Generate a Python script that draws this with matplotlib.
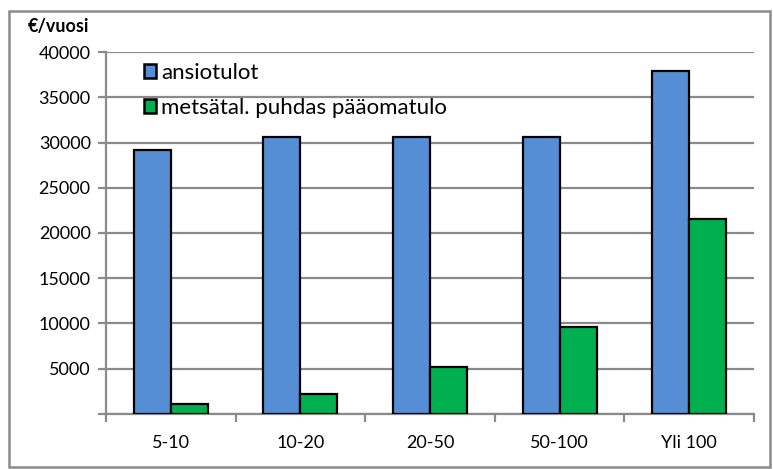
import numpy as np
import matplotlib.pyplot as plt
from matplotlib.patches import Rectangle

plt.rcParams['font.family'] = ['Lato', 'DejaVu Sans']

categories = ['5-10', '10-20', '20-50', '50-100', 'Yli 100']
ansiotulot = [29200, 30600, 30600, 30600, 37900]
paaomatulo = [1100, 2200, 5200, 9600, 21600]
yticks = list(range(0, 40001, 5000))
ytick_labels = [''] + [str(v) for v in yticks[1:]]

grey = '#8a8a8a'
fig = plt.figure(figsize=(7.73, 4.69), dpi=100)
ax = fig.add_axes([0.1371, 0.1173, 0.8383, 0.7718])

x = np.arange(len(categories))
w = 0.285
ax.bar(x - w / 2, ansiotulot, w, color='#558ED5', edgecolor='black',
       linewidth=1.6, label='ansiotulot', zorder=3)
ax.bar(x + w / 2, paaomatulo, w, color='#00B050', edgecolor='black',
       linewidth=1.6, label='metsätal. puhdas pääomatulo', zorder=3)

ax.set_xlim(-0.5, len(categories) - 0.5)
ax.set_ylim(0, 40000)
ax.set_yticks(yticks)
ax.set_yticklabels(ytick_labels, fontsize=13)
ax.yaxis.grid(True, color=grey, linewidth=1.6, zorder=0)
ax.tick_params(axis='y', length=6, width=1.6, color=grey, pad=5)

# category boundaries as ticks, names as minor ticks
ax.set_xticks(np.arange(-0.5, len(categories)))
ax.set_xticklabels([])
ax.set_xticks(x, minor=True)
ax.set_xticklabels(categories, minor=True, fontsize=13)
ax.tick_params(axis='x', which='major', length=6, width=1.6, color=grey)
ax.tick_params(axis='x', which='minor', length=0, pad=15)

for s in ['top', 'right']:
    ax.spines[s].set_visible(False)
for s in ['left', 'bottom']:
    ax.spines[s].set_color(grey)
    ax.spines[s].set_linewidth(1.6)

ax.legend(loc='upper left', bbox_to_anchor=(0.035, 1.012), frameon=False,
          fontsize=16, handlelength=0.55, handleheight=0.6,
          handletextpad=0.2, labelspacing=0.65, borderaxespad=0.3)
for h in ax.get_legend().legend_handles:
    h.set_linewidth(1.8)

fig.text(0.036, 0.932, '€/vuosi', fontsize=13, fontweight='bold')

fig.patches.append(Rectangle((0.012, 0.004), 0.984, 0.972, transform=fig.transFigure,
                             fill=False, edgecolor=grey, linewidth=1.8))

fig.savefig('out.png', dpi=100)
